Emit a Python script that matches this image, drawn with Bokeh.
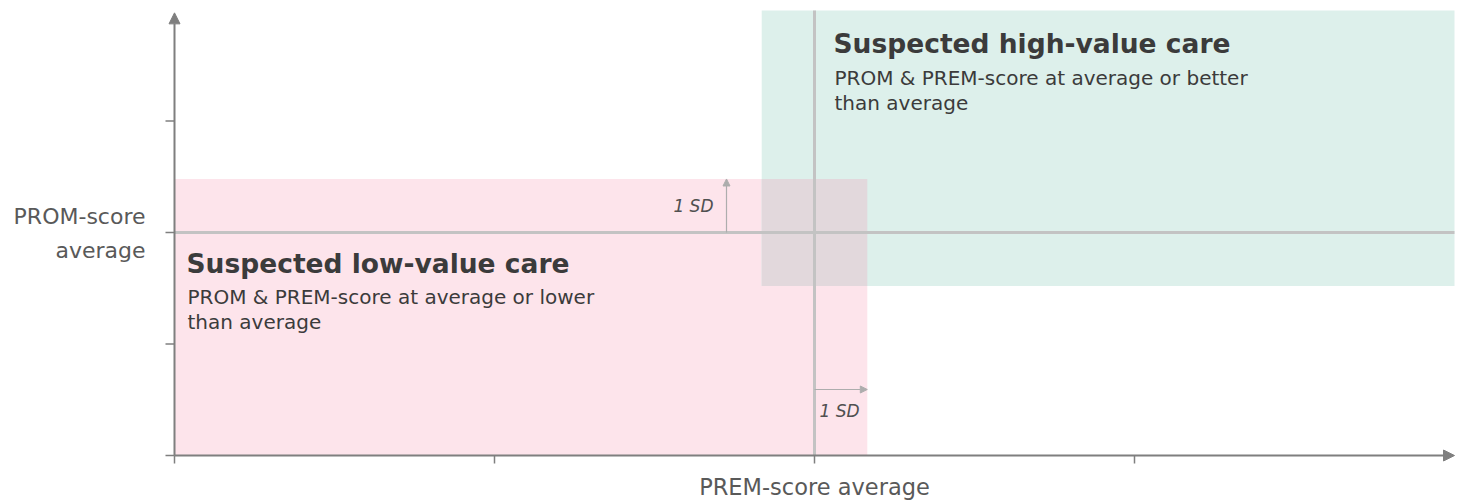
from bokeh.plotting import figure
from bokeh.models import Range1d, Arrow, NormalHead, Label
from bokeh.embed import file_html
from bokeh.resources import INLINE

# ---- data ----
x_ticks = [0, 1, 2, 3]
y_ticks = [0, 1, 2, 3]
prem_mean = 2.0
prom_mean = 2.0
prem_sd = 0.165
prom_sd = 0.48
x_max = 4.0
y_max = 3.99

x_label = "PREM-score average"
y_label_lines = ["PROM-score", "average"]
high_title = "Suspected high-value care"
high_lines = ["PROM & PREM-score at average or better", "than average"]
low_title = "Suspected low-value care"
low_lines = ["PROM & PREM-score at average or lower", "than average"]
sd_text = "1 SD"

W, H = 1467, 502
X0PX, Y0PX = 174, 455
XS, YS = 320.0, 111.5

p = figure(width=W, height=H, output_backend="svg", toolbar_location=None,
           x_range=Range1d(-X0PX / XS, (W - X0PX) / XS),
           y_range=Range1d(-(H - Y0PX) / YS, Y0PX / YS),
           min_border=0, min_border_left=0, min_border_right=0,
           min_border_top=0, min_border_bottom=0)
p.xaxis.visible = False
p.yaxis.visible = False
p.grid.visible = False
p.outline_line_color = None
p.background_fill_color = "white"
p.border_fill_color = "white"

def px_x(v):
    return (v - X0PX) / XS

def px_y(v):
    return (Y0PX - v) / YS

FONT = "DejaVu Sans"
DARK = "#3b3b3b"
GREY_TXT = "#595959"

# regions
low = dict(left=0, right=prem_mean + prem_sd, bottom=0, top=prom_mean + prom_sd)
high = dict(left=prem_mean - prem_sd, right=x_max, bottom=prom_mean - prom_sd, top=y_max)
p.quad(left=[low["left"]], right=[low["right"]], bottom=[low["bottom"]], top=[low["top"]],
       fill_color="#fde4eb", line_color=None)
p.quad(left=[high["left"]], right=[high["right"]], bottom=[high["bottom"]], top=[high["top"]],
       fill_color="#ddf0eb", line_color=None)
ov = dict(left=max(low["left"], high["left"]), right=min(low["right"], high["right"]),
          bottom=max(low["bottom"], high["bottom"]), top=min(low["top"], high["top"]))
p.quad(left=[ov["left"]], right=[ov["right"]], bottom=[ov["bottom"]], top=[ov["top"]],
       fill_color="#e2d8dc", line_color=None)

# mean lines
p.segment(x0=[prem_mean], x1=[prem_mean], y0=[0], y1=[y_max], line_color="#c3c3c3", line_width=3)
p.segment(x0=[0], x1=[x_max], y0=[prom_mean], y1=[prom_mean], line_color="#c3c3c3", line_width=3)

# axes with arrows
ax_col = "#7f7f7f"
p.add_layout(Arrow(x_start=0, y_start=0, x_end=x_max, y_end=0, line_color=ax_col, line_width=2,
                   end=NormalHead(size=11, fill_color=ax_col, line_color=ax_col)))
p.add_layout(Arrow(x_start=0, y_start=0, x_end=0, y_end=y_max - 0.02, line_color=ax_col, line_width=2,
                   end=NormalHead(size=11, fill_color=ax_col, line_color=ax_col)))
# ticks
p.segment(x0=x_ticks, x1=x_ticks, y0=[0] * len(x_ticks), y1=[-8 / YS] * len(x_ticks),
          line_color=ax_col, line_width=1.5)
p.segment(x0=[0] * len(y_ticks), x1=[-9 / XS] * len(y_ticks), y0=y_ticks, y1=y_ticks,
          line_color=ax_col, line_width=1.5)

# SD arrows
sd_col = "#adadad"
sd_x_pos = px_x(726)
p.add_layout(Arrow(x_start=sd_x_pos, y_start=prom_mean, x_end=sd_x_pos, y_end=prom_mean + prom_sd,
                   line_color=sd_col, line_width=1.2,
                   end=NormalHead(size=7, fill_color=sd_col, line_color=sd_col)))
sd_y_pos = px_y(389)
p.add_layout(Arrow(x_start=prem_mean, y_start=sd_y_pos, x_end=prem_mean + prem_sd, y_end=sd_y_pos,
                   line_color=sd_col, line_width=1.2,
                   end=NormalHead(size=7, fill_color=sd_col, line_color=sd_col)))

def label(text, xpx, ypx, size, color, align="left", style="normal"):
    p.add_layout(Label(x=px_x(xpx), y=px_y(ypx), text=text, text_font=FONT,
                       text_font_size=size, text_color=color, text_align=align,
                       text_font_style=style, text_baseline="middle"))

label(sd_text, 713, 205, "17px", "#505050", align="right", style="italic")
label(sd_text, 819, 410, "17px", "#505050", align="left", style="italic")

# region texts
label(high_title, 833, 43, "26.5px", DARK, style="bold")
label(high_lines[0], 834, 77, "20px", DARK)
label(high_lines[1], 834, 102, "20px", DARK)
label(low_title, 186, 263, "26.5px", DARK, style="bold")
label(low_lines[0], 187, 296, "20px", DARK)
label(low_lines[1], 187, 321, "20px", DARK)

# axis labels
label(y_label_lines[0], 145, 216, "22px", GREY_TXT, align="right")
label(y_label_lines[1], 145, 250, "22px", GREY_TXT, align="right")
label(x_label, 814, 486, "22.5px", GREY_TXT, align="center")

open("out.html", "w").write(file_html(p, INLINE))
